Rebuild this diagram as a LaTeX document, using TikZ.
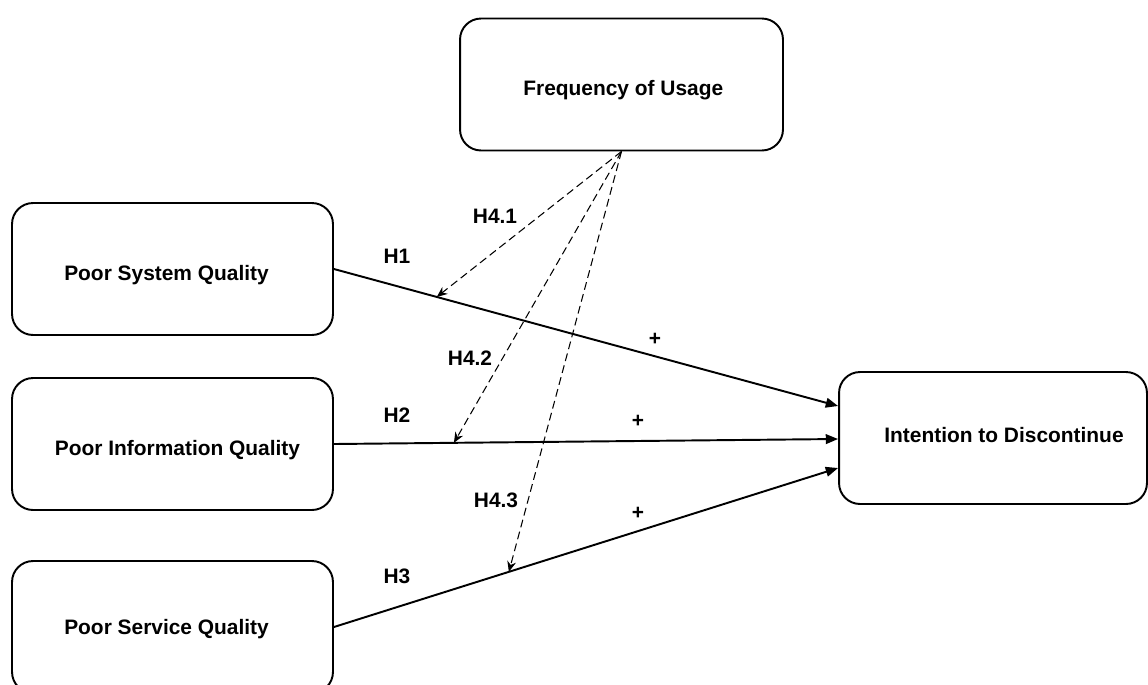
\documentclass[tikz,border=0pt]{standalone}
\usepackage{fontspec}
\setmainfont{Liberation Sans}
\usetikzlibrary{arrows.meta,calc}
\newcommand{\shiftv}[2]{\raisebox{#1}[\height][\depth]{#2}}
\begin{document}
\begin{tikzpicture}[x=0.02cm,y=-0.02cm,
  every node/.style={font=\fontsize{11.9}{14}\selectfont\bfseries},
  box/.style={draw, line width=1.1pt, rounded corners=0.42cm, minimum width=6.42cm, minimum height=2.64cm, inner sep=0pt},
  effect/.style={line width=1.1pt, -{Triangle[length=7pt,width=5.5pt]}},
  moder/.style={line width=0.6pt, dash pattern=on 4.5pt off 2.5pt, -{Stealth[length=6pt,width=5pt]}},
  lab/.style={inner sep=0pt}]
\useasboundingbox (0,0) rectangle (1148,684);
\fill[white] (0,0) rectangle (1148,684);
% boxes
\node[box] (psq) at (172.5,269) {\hspace*{-6.8pt}\shiftv{-3.4pt}{Poor System Quality}};
\node[box] (piq) at (172.5,444) {\hspace*{5.7pt}\shiftv{-3.4pt}{Poor Information Quality}};
\node[box] (pseq) at (172.5,627) {\hspace*{-6.8pt}\shiftv{-1.1pt}{Poor Service Quality}};
\node[box, minimum width=6.46cm] (fou) at (621.5,84.5) {\hspace*{2pt}\shiftv{-3.4pt}{Frequency of Usage}};
\node[box, minimum width=6.16cm] (itd) at (993,438) {\hspace*{12.5pt}\shiftv{1.7pt}{Intention to Discontinue}};
% targets on the intention box
\coordinate (t1) at ($(itd.west)+(0,-32)$);
\coordinate (t2) at ($(itd.west)+(0,1)$);
\coordinate (t3) at ($(itd.west)+(0,30)$);
% direct effects
\draw[effect] (psq.east) -- (t1) coordinate[pos=0.204] (m1);
\draw[effect] (piq.east) -- (t2) coordinate[pos=0.238] (m2);
\draw[effect] (pseq.east) -- (t3) coordinate[pos=0.347] (m3);
% moderation
\draw[moder] (fou.south) -- (m1);
\draw[moder] (fou.south) -- (m2);
\draw[moder] (fou.south) -- (m3);
% labels
\node[lab] (h1) at (397,256) {H1};
\node[lab] (h2) at (397,415) {H2};
\node[lab] (h3) at (397,576) {H3};
\node[lab] (h41) at (495,216) {H4.1};
\node[lab] (h42) at (470,358) {H4.2};
\node[lab] (h43) at (496,500) {H4.3};
\node[lab] (p1) at (655,339) {+};
\node[lab] (p2) at (638,421) {+};
\node[lab] (p3) at (638,513) {+};
\end{tikzpicture}
\end{document}
